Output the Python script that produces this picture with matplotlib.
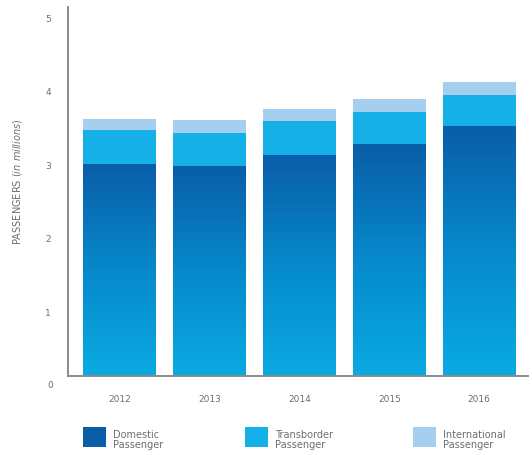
import numpy as np
import matplotlib.pyplot as plt
from matplotlib.colors import LinearSegmentedColormap
from matplotlib.patches import Rectangle

# --- dados (milhões de passageiros) ---
years = ['2012', '2013', '2014', '2015', '2016']
domestic = [3.00, 2.97, 3.12, 3.27, 3.52]
transborder = [0.47, 0.46, 0.47, 0.44, 0.42]
international = [0.15, 0.17, 0.17, 0.18, 0.18]
legend_labels = ['Domestic\nPassenger', 'Transborder\nPassenger', 'International\nPassenger']

c_dom_top = '#0a5ea8'
c_dom_bottom = '#0aaae2'
c_trans = '#16b0e8'
c_intl = '#a6cfef'
grey = '#6e6e6e'

fig = plt.figure(figsize=(5.32, 4.56), dpi=100)
ax = fig.add_axes([0.127, 0.173, 0.865, 0.809])

x = np.arange(len(years))
w = 0.81
dom = np.array(domestic)
trans = np.array(transborder)
intl = np.array(international)

bars = ax.bar(x, dom, w, color=c_dom_top, linewidth=0)
ax.bar(x, trans, w, bottom=dom, color=c_trans, linewidth=0)
ax.bar(x, intl, w, bottom=dom + trans, color=c_intl, linewidth=0)

# gradiente vertical no segmento doméstico (imagem com a mesma extensão da barra)
cmap = LinearSegmentedColormap.from_list(
    'dom', [(0, c_dom_bottom), (0.45, '#068dcf'), (1, c_dom_top)])
grad = np.linspace(0, 1, 256).reshape(-1, 1)
for b in bars:
    x0 = b.get_x()
    ax.imshow(grad, extent=[x0, x0 + b.get_width(), 0.12, b.get_height()],
              origin='lower', aspect='auto', cmap=cmap, zorder=b.get_zorder())

ax.set_xlim(-0.58, 4.54)
ax.set_ylim(0.12, 5.14)

ax.set_yticks(range(1, 6))
ax.set_yticklabels([str(v) for v in range(1, 6)])
# o "0" fica abaixo do eixo -> texto à parte, alinhado com os outros rótulos
ax.text(-0.58 - 14 / 90, 0, '0', ha='right', va='center',
        fontsize=6.5, color=grey, clip_on=False)

ax.set_xticks(x)
ax.set_xticklabels(years)
for lbl in ax.get_xticklabels():
    lbl.set_color(grey)
ax.get_xticklabels()[-1].set_color('#2a9ad6')

ax.tick_params(axis='both', length=0, labelsize=6.5, colors=grey)
ax.tick_params(axis='y', pad=12)
ax.tick_params(axis='x', pad=13)

for s in ['top', 'right']:
    ax.spines[s].set_visible(False)
for s in ['left', 'bottom']:
    ax.spines[s].set_color('#8a8a8a')
    ax.spines[s].set_linewidth(1.4)

ax.set_ylabel(r'PASSENGERS ($\it{in\ millions}$)', fontsize=7, color=grey)
ax.yaxis.set_label_coords(-0.095, 0.53)

# legenda manual
leg_colors = [c_dom_top, c_trans, c_intl]
leg_x = [83, 245, 413]
for lx, col, txt in zip(leg_x, leg_colors, legend_labels):
    fig.add_artist(Rectangle((lx / 532, (456 - 448) / 456), 23 / 532, 20 / 456,
                             transform=fig.transFigure, color=col, linewidth=0))
    fig.text((lx + 30) / 532, (456 - 440) / 456, txt, fontsize=7, color=grey,
             va='center', ha='left', linespacing=1.05)

fig.savefig('out.png', dpi=100)
